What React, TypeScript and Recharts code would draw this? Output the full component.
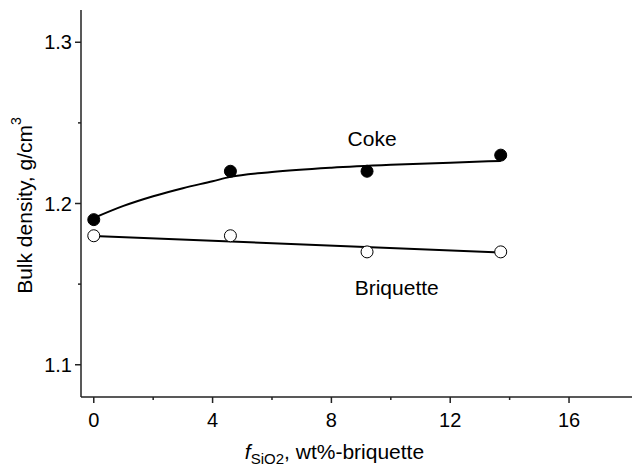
import React from 'react';
import {
  ComposedChart,
  Scatter,
  Line,
  XAxis,
  YAxis,
  ReferenceDot,
  Label,
} from 'recharts';

// measured points
const SIO2 = [0, 4.6, 9.2, 13.7];
const COKE = [1.19, 1.22, 1.22, 1.23];
const BRIQUETTE = [1.18, 1.18, 1.17, 1.17];

// fitted curves
const COKE_FIT_X = [0, 1, 2, 3, 4, 4.6, 6, 8, 10, 12, 13.7];
const COKE_FIT_Y = [1.191, 1.1985, 1.2045, 1.2095, 1.2138, 1.2165, 1.2195, 1.2222, 1.224, 1.2253, 1.2264];
const BRIQ_FIT_X = [0, 13.7];
const BRIQ_FIT_Y = [1.1799, 1.1696];

const X_TICKS = [0, 2, 4, 6, 8, 10, 12, 14, 16];
const X_MAJOR = [0, 4, 8, 12, 16];
const Y_TICKS = [1.1, 1.15, 1.2, 1.25, 1.3];
const Y_MAJOR = [1.1, 1.2, 1.3];

const FONT = '"Liberation Sans", Arial, sans-serif';
const AXIS_COLOR = '#222';
const TICK_FS = 20;
const TITLE_FS = 21;

const cokePts = SIO2.map((x, i) => ({ x, y: COKE[i] }));
const briqPts = SIO2.map((x, i) => ({ x, y: BRIQUETTE[i] }));
const cokeFit = COKE_FIT_X.map((x, i) => ({ x, fit: COKE_FIT_Y[i] }));
const briqFit = BRIQ_FIT_X.map((x, i) => ({ x, fit: BRIQ_FIT_Y[i] }));

const isMajor = (list: number[], v: number) => list.some((m) => Math.abs(m - v) < 1e-6);

const XTick = (props: any) => {
  const { x, y, payload } = props;
  const major = isMajor(X_MAJOR, payload.value);
  return (
    <g>
      <line x1={x} y1={y} x2={x} y2={y + (major ? 6 : 3)} stroke={AXIS_COLOR} strokeWidth={1.5} />
      {major && (
        <text x={x} y={y + 30} textAnchor="middle" fontSize={TICK_FS} fontFamily={FONT} fill="#000">
          {payload.value}
        </text>
      )}
    </g>
  );
};

const YTick = (props: any) => {
  const { x, y, payload } = props;
  const major = isMajor(Y_MAJOR, payload.value);
  return (
    <g>
      <line x1={x} y1={y} x2={x - (major ? 6 : 3)} y2={y} stroke={AXIS_COLOR} strokeWidth={1.5} />
      {major && (
        <text x={x - 9} y={y + 7} textAnchor="end" fontSize={TICK_FS} fontFamily={FONT} fill="#000">
          {payload.value.toFixed(1)}
        </text>
      )}
    </g>
  );
};

const XTitle = (props: any) => {
  const vb = props.viewBox;
  const cx = vb.x + vb.width / 2 - 22;
  return (
    <text x={cx} y={vb.y + 62} textAnchor="middle" fontSize={TITLE_FS} fontFamily={FONT} fill="#000">
      <tspan fontStyle="italic">f</tspan>
      <tspan fontSize={15} dy={5}>SiO2</tspan>
      <tspan dy={-5}>, wt%-briquette</tspan>
    </text>
  );
};

const YTitle = (props: any) => {
  const vb = props.viewBox;
  const cx = 24;
  const cy = vb.y + vb.height / 2 + 2;
  return (
    <text
      x={cx}
      y={cy}
      transform={`rotate(-90, ${cx}, ${cy})`}
      textAnchor="middle"
      dominantBaseline="central"
      fontSize={TITLE_FS}
      fontFamily={FONT}
      fill="#000"
    >
      Bulk density, g/cm<tspan fontSize={14} dy={-8}>3</tspan>
    </text>
  );
};

const filledDot = (p: any) => <circle cx={p.cx} cy={p.cy} r={6} fill="#000" stroke="#000" strokeWidth={1} />;
const openDot = (p: any) => <circle cx={p.cx} cy={p.cy} r={6} fill="#fff" stroke="#000" strokeWidth={1} />;

export default function App() {
  return (
    <div style={{ position: 'absolute', left: 0, top: 0, background: '#fff' }}>
      <ComposedChart width={632} height={470} margin={{ top: 10, right: 0, bottom: 0, left: 0 }}>
        <XAxis
          type="number"
          dataKey="x"
          domain={[-0.43, 18.12]}
          ticks={X_TICKS}
          interval={0}
          allowDataOverflow
          height={73}
          tickSize={0}
          tickMargin={0}
          tickLine={false}
          tick={<XTick />}
          axisLine={{ stroke: AXIS_COLOR, strokeWidth: 1.5 }}
          label={<Label content={<XTitle />} />}
        />
        <YAxis
          type="number"
          domain={[1.08, 1.32]}
          ticks={Y_TICKS}
          interval={0}
          allowDataOverflow
          width={81}
          tickSize={0}
          tickMargin={0}
          tickLine={false}
          tick={<YTick />}
          axisLine={{ stroke: AXIS_COLOR, strokeWidth: 1.5 }}
          label={<Label content={<YTitle />} />}
        />
        <Line
          data={cokeFit}
          dataKey="fit"
          type="monotone"
          stroke="#000"
          strokeWidth={2}
          dot={false}
          activeDot={false}
          isAnimationActive={false}
        />
        <Line
          data={briqFit}
          dataKey="fit"
          type="linear"
          stroke="#000"
          strokeWidth={2}
          dot={false}
          activeDot={false}
          isAnimationActive={false}
        />
        <Scatter data={cokePts} dataKey="y" shape={filledDot} isAnimationActive={false} />
        <Scatter data={briqPts} dataKey="y" shape={openDot} isAnimationActive={false} />
        <ReferenceDot
          x={9.37}
          y={1.24}
          r={0}
          fill="none"
          stroke="none"
          label={{ value: 'Coke', position: 'center', fontSize: TITLE_FS, fontFamily: FONT, fill: '#000' }}
        />
        <ReferenceDot
          x={10.2}
          y={1.1477}
          r={0}
          fill="none"
          stroke="none"
          label={{ value: 'Briquette', position: 'center', fontSize: TITLE_FS, fontFamily: FONT, fill: '#000' }}
        />
      </ComposedChart>
    </div>
  );
}
